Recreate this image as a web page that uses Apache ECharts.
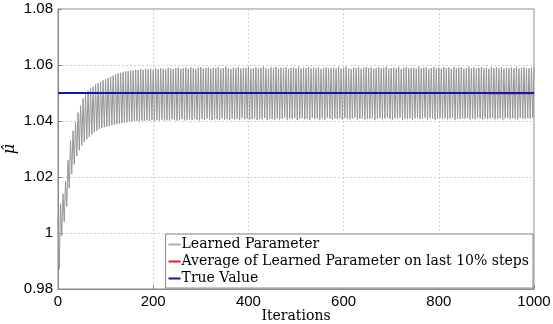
<!DOCTYPE html>
<html>
<head>
<meta charset="utf-8">
<script src="https://cdn.jsdelivr.net/npm/echarts@6/dist/echarts.min.js"></script>
<style>
html, body { margin: 0; padding: 0; background: #fff; }
#main { width: 553px; height: 324px; }
</style>
</head>
<body>
<div id="main"></div>
<script>
// peaks and troughs of the learned parameter
const peakValues = [
  1.0055, 1.0105, 1.0140, 1.0185, 1.0260, 1.0330, 1.0365, 1.0395, 1.0430, 1.0455,
  1.0480, 1.0495, 1.0508, 1.0517, 1.0522, 1.0530, 1.0535, 1.0540, 1.0545, 1.0550,
  1.0554, 1.0558, 1.0562, 1.0566, 1.0570, 1.0572, 1.0574, 1.0577, 1.0578, 1.0580,
  1.0580,
  1.0583, 1.0581, 1.0585, 1.0582, 1.0586, 1.0584, 1.0587, 1.0583, 1.0588, 1.0585,
  1.0589, 1.0586, 1.0584, 1.0590, 1.0587, 1.0585, 1.0589, 1.0591, 1.0586, 1.0588,
  1.0590, 1.0587, 1.0592, 1.0588, 1.0585, 1.0590, 1.0593, 1.0587, 1.0589, 1.0591,
  1.0586, 1.0590, 1.0588, 1.0592, 1.0587, 1.0589, 1.0594, 1.0588, 1.0586, 1.0591,
  1.0589, 1.0593, 1.0587, 1.0590, 1.0588, 1.0592, 1.0586, 1.0589, 1.0591, 1.0587,
  1.0590, 1.0594, 1.0588, 1.0586, 1.0591, 1.0589, 1.0593, 1.0587, 1.0590, 1.0588,
  1.0592, 1.0586, 1.0589, 1.0591, 1.0588, 1.0594, 1.0587, 1.0590, 1.0589, 1.0592,
  1.0587, 1.0591, 1.0588, 1.0593, 1.0586, 1.0590, 1.0592, 1.0588, 1.0589, 1.0591,
  1.0588, 1.0593, 1.0587, 1.0590, 1.0594, 1.0588, 1.0586, 1.0591, 1.0589, 1.0592,
  1.0587, 1.0590, 1.0593, 1.0588, 1.0591, 1.0586, 1.0589, 1.0592, 1.0588, 1.0590,
  1.0594, 1.0587, 1.0589, 1.0591, 1.0588, 1.0593, 1.0586, 1.0590, 1.0592, 1.0588,
  1.0589, 1.0591, 1.0587, 1.0594, 1.0588, 1.0590, 1.0592, 1.0586, 1.0589, 1.0593,
  1.0588, 1.0590, 1.0587, 1.0592, 1.0589, 1.0591, 1.0586, 1.0593, 1.0588, 1.0590,
  1.0592, 1.0587, 1.0589, 1.0594, 1.0588, 1.0591, 1.0587, 1.0590, 1.0593, 1.0588,
  1.0590, 1.0586, 1.0592, 1.0589, 1.0591, 1.0588, 1.0593, 1.0587, 1.0590, 1.0589,
  1.0591, 1.0588, 1.0594, 1.0587, 1.0590, 1.0592, 1.0588, 1.0589, 1.0591, 1.0592
];
const troughValues = [
  0.9870, 0.9990, 1.0040, 1.0095, 1.0160, 1.0210, 1.0245, 1.0275, 1.0295, 1.0312,
  1.0325, 1.0335, 1.0343, 1.0352, 1.0360, 1.0366, 1.0371, 1.0375, 1.0378, 1.0380,
  1.0382, 1.0385, 1.0387, 1.0389, 1.0391, 1.0393, 1.0395, 1.0396, 1.0398, 1.0399,
  1.0400,
  1.0401, 1.0399, 1.0402, 1.0400, 1.0403, 1.0401, 1.0404, 1.0400, 1.0403, 1.0402,
  1.0405, 1.0401, 1.0404, 1.0402, 1.0406, 1.0403, 1.0401, 1.0405, 1.0407, 1.0402,
  1.0404, 1.0406, 1.0403, 1.0408, 1.0405, 1.0402, 1.0407, 1.0404, 1.0409, 1.0405,
  1.0403, 1.0408, 1.0406, 1.0404, 1.0410, 1.0405, 1.0407, 1.0403, 1.0409, 1.0406,
  1.0408, 1.0404, 1.0411, 1.0406, 1.0409, 1.0405, 1.0407, 1.0410, 1.0404, 1.0408,
  1.0406, 1.0411, 1.0405, 1.0409, 1.0407, 1.0404, 1.0410, 1.0406, 1.0408, 1.0412,
  1.0405, 1.0409, 1.0407, 1.0411, 1.0404, 1.0408, 1.0410, 1.0406, 1.0409, 1.0405,
  1.0411, 1.0407, 1.0409, 1.0404, 1.0410, 1.0406, 1.0412, 1.0408, 1.0405, 1.0409,
  1.0407, 1.0410, 1.0405, 1.0411, 1.0408, 1.0406, 1.0409, 1.0412, 1.0405, 1.0408,
  1.0410, 1.0406, 1.0409, 1.0407, 1.0411, 1.0405, 1.0408, 1.0410, 1.0406, 1.0409,
  1.0412, 1.0407, 1.0405, 1.0410, 1.0408, 1.0411, 1.0406, 1.0409, 1.0407, 1.0410,
  1.0405, 1.0409, 1.0411, 1.0407, 1.0408, 1.0412, 1.0406, 1.0410, 1.0408, 1.0405,
  1.0409, 1.0411, 1.0407, 1.0410, 1.0406, 1.0408, 1.0412, 1.0405, 1.0409, 1.0407,
  1.0410, 1.0408, 1.0411, 1.0406, 1.0409, 1.0407, 1.0412, 1.0408, 1.0405, 1.0410,
  1.0407, 1.0409, 1.0411, 1.0406, 1.0408, 1.0410, 1.0405, 1.0409, 1.0412, 1.0407,
  1.0410, 1.0408, 1.0406, 1.0411, 1.0409, 1.0407, 1.0410, 1.0408, 1.0411
];
const totalIterations = 1000;
const cycleCount = 190;          // one peak + one trough per cycle
const averageValue = 1.0499;     // average over last 10% steps
const averageFrom = 900;
const trueValue = 1.05;
const xTicks = [0, 200, 400, 600, 800, 1000];
const yTicks = [0.98, 1, 1.02, 1.04, 1.06, 1.08];

const period = totalIterations / cycleCount;
const learned = [];
for (let k = 0; k < peakValues.length; k++) {
  learned.push([k * period, peakValues[k]]);
  if (k < troughValues.length) learned.push([(k + 0.5) * period, troughValues[k]]);
}

const chart = echarts.init(document.getElementById('main'));
const sans = 'Liberation Sans, Arial, sans-serif';
const serif = 'DejaVu Serif, serif';
const lineIcon = 'rect';

const option = {
  animation: false,
  backgroundColor: '#fff',
  grid: {
    left: 58, top: 9, width: 476, height: 280,
    outerBoundsMode: 'none', containLabel: false,
    show: true, borderColor: '#8a8a8a', borderWidth: 1, backgroundColor: '#fff'
  },
  legend: {
    orient: 'vertical',
    right: 20, bottom: 36,
    backgroundColor: '#fff',
    borderColor: '#8a8a8a', borderWidth: 1,
    padding: [2, 4, 1, 3],
    itemWidth: 12, itemHeight: 2, itemGap: 0,
    textStyle: { fontFamily: serif, fontSize: 14, color: '#000', lineHeight: 17, padding: [0, 0, 0, -4] },
    data: [
      { name: 'Learned Parameter', icon: lineIcon },
      { name: 'Average of Learned Parameter on last 10% steps', icon: lineIcon },
      { name: 'True Value', icon: lineIcon }
    ]
  },
  xAxis: {
    type: 'value',
    min: xTicks[0], max: xTicks[xTicks.length - 1], interval: 200,
    name: 'Iterations', nameLocation: 'middle', nameGap: 20, nameMoveOverlap: false,
    nameTextStyle: { fontFamily: serif, fontSize: 14, color: '#000', lineHeight: 14 },
    axisLine: { lineStyle: { color: '#8a8a8a' } },
    axisTick: { inside: true, length: 4, lineStyle: { color: '#8a8a8a' } },
    axisLabel: {
      fontFamily: sans, fontSize: 15, color: '#000', margin: 5,
      formatter: function (v) { return String(v); }
    },
    splitLine: { show: true, lineStyle: { color: '#d2d2d2', type: [2, 2] } }
  },
  yAxis: {
    type: 'value',
    min: yTicks[0], max: yTicks[yTicks.length - 1], interval: 0.02,
    name: 'μ\u0302', nameLocation: 'middle', nameGap: 38, nameRotate: 90,
    nameMoveOverlap: false,
    nameTextStyle: { fontFamily: 'DejaVu Serif', fontSize: 16, fontStyle: 'italic', color: '#000', lineHeight: 20 },
    axisLine: { show: true, lineStyle: { color: '#8a8a8a' } },
    axisTick: { show: true, inside: true, length: 4, lineStyle: { color: '#8a8a8a' } },
    axisLabel: {
      fontFamily: sans, fontSize: 15, color: '#000', margin: 5,
      formatter: function (v) { return String(parseFloat(v.toFixed(2))); }
    },
    splitLine: { show: true, lineStyle: { color: '#d2d2d2', type: [2, 2] } }
  },
  series: [
    {
      name: 'Learned Parameter', type: 'line', data: learned,
      symbol: 'none', lineStyle: { color: '#959595', width: 1 }, itemStyle: { color: '#b0b0b0' }
    },
    {
      name: 'Average of Learned Parameter on last 10% steps', type: 'line',
      data: [[averageFrom, averageValue], [totalIterations, averageValue]],
      symbol: 'none', lineStyle: { color: '#e02020', width: 2 }, itemStyle: { color: '#e02020' }
    },
    {
      name: 'True Value', type: 'line',
      data: [[0, trueValue], [totalIterations, trueValue]],
      symbol: 'none', lineStyle: { color: '#1414b4', width: 2 }, itemStyle: { color: '#1414b4' }
    }
  ]
};
chart.setOption(option);
window.addEventListener('resize', function () { chart.resize(); });
</script>
</body>
</html>
